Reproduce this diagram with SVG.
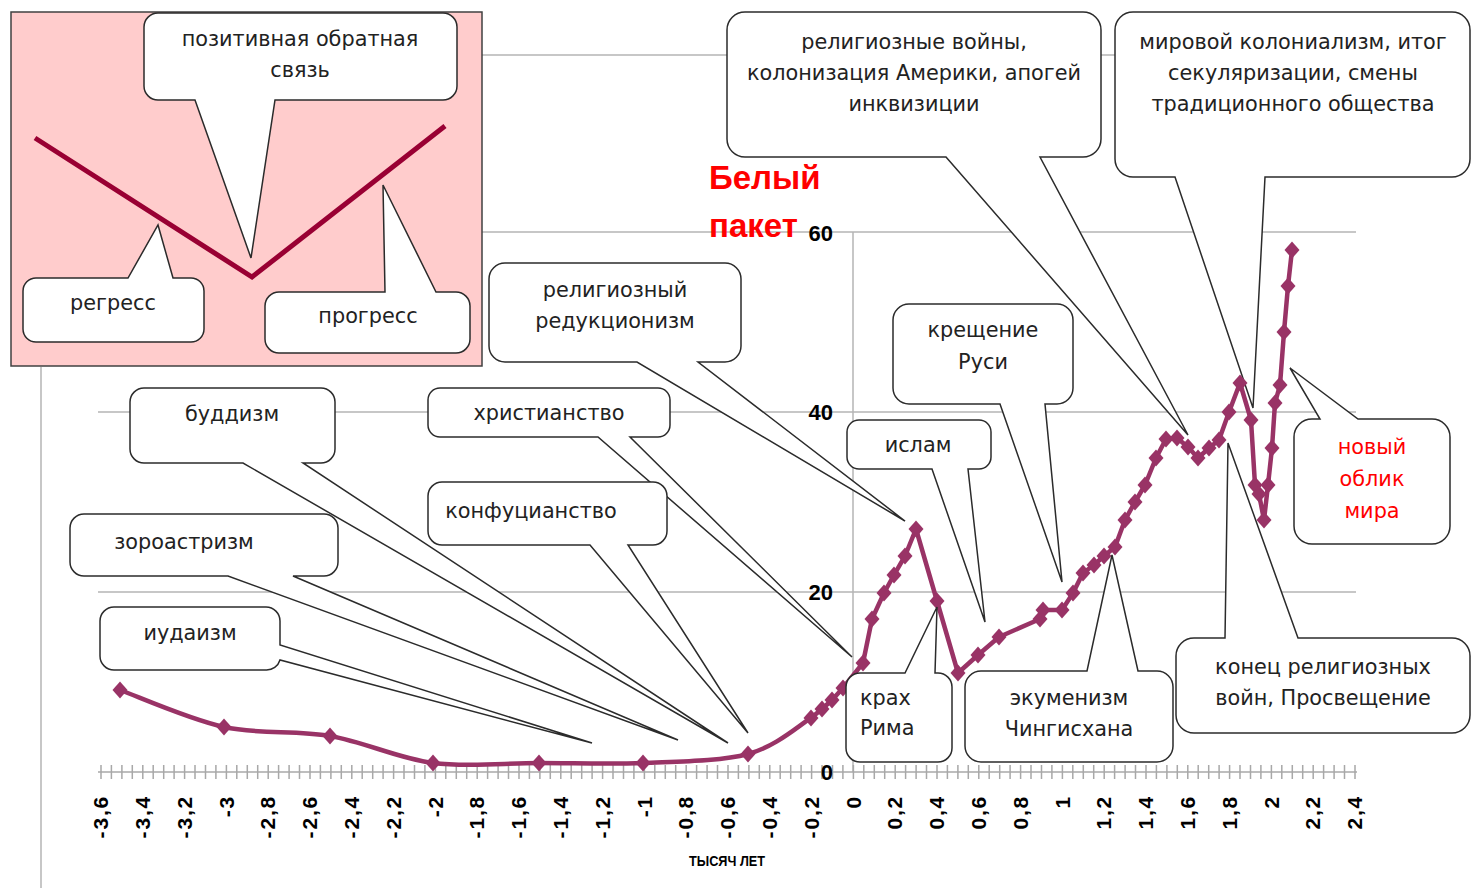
<svg xmlns="http://www.w3.org/2000/svg" width="1471" height="888" viewBox="0 0 1471 888">
<style>
.grid{stroke:#B4B4B4;stroke-width:1.5;fill:none}
.tick{stroke:#A8A8A8;stroke-width:1.5}
.call{fill:#FFFFFF;stroke:#2B2B2B;stroke-width:1.5;stroke-linejoin:miter}
.t{font-family:"DejaVu Sans",sans-serif;font-size:20.8px;fill:#222;text-anchor:middle}
.tl{font-family:"DejaVu Sans",sans-serif;font-size:20.8px;fill:#222}
.red{fill:#FF0000}
.xl{font-family:"Liberation Sans",Arial,sans-serif;font-size:21px;font-weight:bold;fill:#000;text-anchor:end;letter-spacing:1.8px}
.yl{font-family:"Liberation Sans",Arial,sans-serif;font-size:22px;font-weight:bold;fill:#000;text-anchor:end}
.curve{fill:none;stroke:#993366;stroke-width:4.5;stroke-linejoin:round;marker-start:url(#dia);marker-mid:url(#dia);marker-end:url(#dia)}
</style>
<defs>
<marker id="dia" markerUnits="userSpaceOnUse" markerWidth="18" markerHeight="20" refX="9" refY="10" orient="0" viewBox="0 0 18 20">
<path d="M9,1.5 L16.5,10 L9,18.5 L1.5,10 Z" fill="#993366"/>
</marker>
</defs>
<rect width="1471" height="888" fill="#FFFFFF"/>

<g id="chart">
<line class="grid" x1="98" y1="55" x2="1356" y2="55"/>
<line class="grid" x1="98" y1="232" x2="1356" y2="232"/>
<line class="grid" x1="98" y1="412" x2="1356" y2="412"/>
<line class="grid" x1="98" y1="592" x2="1356" y2="592"/>
<line class="grid" x1="853" y1="232" x2="853" y2="772"/>
<line class="grid" x1="41" y1="367" x2="41" y2="888" stroke-width="1"/>
<line class="tick" x1="98" y1="772" x2="1357" y2="772"/>
<path class="tick" d="M101,765V779M111.4,765V779M121.9,765V779M132.3,765V779M142.8,765V779M153.2,765V779M163.7,765V779M174.1,765V779M184.6,765V779M195,765V779M205.5,765V779M215.9,765V779M226.4,765V779M236.8,765V779M247.3,765V779M257.7,765V779M268.2,765V779M278.6,765V779M289.1,765V779M299.5,765V779M310,765V779M320.4,765V779M330.9,765V779M341.3,765V779M351.8,765V779M362.2,765V779M372.7,765V779M383.1,765V779M393.6,765V779M404,765V779M414.5,765V779M424.9,765V779M435.4,765V779M445.8,765V779M456.3,765V779M466.7,765V779M477.2,765V779M487.6,765V779M498.1,765V779M508.5,765V779M519,765V779M529.4,765V779M539.9,765V779M550.3,765V779M560.8,765V779M571.2,765V779M581.7,765V779M592.1,765V779M602.6,765V779M613,765V779M623.5,765V779M633.9,765V779M644.4,765V779M654.8,765V779M665.3,765V779M675.7,765V779M686.2,765V779M696.6,765V779M707.1,765V779M717.5,765V779M728,765V779M738.4,765V779M748.9,765V779M759.3,765V779M769.8,765V779M780.2,765V779M790.7,765V779M801.1,765V779M811.6,765V779M822,765V779M832.5,765V779M842.9,765V779M853.4,765V779M863.8,765V779M874.3,765V779M884.7,765V779M895.2,765V779M905.6,765V779M916.1,765V779M926.5,765V779M937,765V779M947.4,765V779M957.9,765V779M968.3,765V779M978.8,765V779M989.2,765V779M999.7,765V779M1010.1,765V779M1020.6,765V779M1031,765V779M1041.5,765V779M1051.9,765V779M1062.4,765V779M1072.8,765V779M1083.3,765V779M1093.7,765V779M1104.2,765V779M1114.6,765V779M1125.1,765V779M1135.5,765V779M1146,765V779M1156.4,765V779M1166.9,765V779M1177.3,765V779M1187.8,765V779M1198.2,765V779M1208.7,765V779M1219.1,765V779M1229.6,765V779M1240,765V779M1250.5,765V779M1260.9,765V779M1271.4,765V779M1281.8,765V779M1292.3,765V779M1302.7,765V779M1313.2,765V779M1323.6,765V779M1334.1,765V779M1344.5,765V779M1355,765V779"/>
<g class="xl">
<text transform="translate(108,795) rotate(-90)">-3,6</text>
<text transform="translate(150,795) rotate(-90)">-3,4</text>
<text transform="translate(192,795) rotate(-90)">-3,2</text>
<text transform="translate(234,795) rotate(-90)">-3</text>
<text transform="translate(275,795) rotate(-90)">-2,8</text>
<text transform="translate(317,795) rotate(-90)">-2,6</text>
<text transform="translate(359,795) rotate(-90)">-2,4</text>
<text transform="translate(401,795) rotate(-90)">-2,2</text>
<text transform="translate(443,795) rotate(-90)">-2</text>
<text transform="translate(484,795) rotate(-90)">-1,8</text>
<text transform="translate(526,795) rotate(-90)">-1,6</text>
<text transform="translate(568,795) rotate(-90)">-1,4</text>
<text transform="translate(610,795) rotate(-90)">-1,2</text>
<text transform="translate(652,795) rotate(-90)">-1</text>
<text transform="translate(693,795) rotate(-90)">-0,8</text>
<text transform="translate(735,795) rotate(-90)">-0,6</text>
<text transform="translate(777,795) rotate(-90)">-0,4</text>
<text transform="translate(819,795) rotate(-90)">-0,2</text>
<text transform="translate(861,795) rotate(-90)">0</text>
<text transform="translate(902,795) rotate(-90)">0,2</text>
<text transform="translate(944,795) rotate(-90)">0,4</text>
<text transform="translate(986,795) rotate(-90)">0,6</text>
<text transform="translate(1028,795) rotate(-90)">0,8</text>
<text transform="translate(1070,795) rotate(-90)">1</text>
<text transform="translate(1111,795) rotate(-90)">1,2</text>
<text transform="translate(1153,795) rotate(-90)">1,4</text>
<text transform="translate(1195,795) rotate(-90)">1,6</text>
<text transform="translate(1237,795) rotate(-90)">1,8</text>
<text transform="translate(1279,795) rotate(-90)">2</text>
<text transform="translate(1320,795) rotate(-90)">2,2</text>
<text transform="translate(1362,795) rotate(-90)">2,4</text>
</g>
<text x="727" y="866" font-family="'Liberation Sans',Arial,sans-serif" font-size="14" font-weight="bold" text-anchor="middle" fill="#000" textLength="76" lengthAdjust="spacingAndGlyphs">ТЫСЯЧ ЛЕТ</text>
<text class="yl" x="833" y="241">60</text>
<text class="yl" x="833" y="420">40</text>
<text class="yl" x="833" y="600">20</text>
<text class="yl" x="833" y="780">0</text>
</g>

<g id="callout-religious-wars">
<path class="call" d="M745,12H1083A18,18 0 0 1 1101,30V139A18,18 0 0 1 1083,157H1040L1188,435L946,157H745A18,18 0 0 1 727,139V30A18,18 0 0 1 745,12Z"/>
<text class="t" x="914" y="49">религиозные войны,</text>
<text class="t" x="914" y="80">колонизация Америки, апогей</text>
<text class="t" x="914" y="111">инквизиции</text>
</g>
<g id="callout-colonialism">
<path class="call" d="M1133,12H1452A18,18 0 0 1 1470,30V159A18,18 0 0 1 1452,177H1265L1253,408L1175,177H1133A18,18 0 0 1 1115,159V30A18,18 0 0 1 1133,12Z"/>
<text class="t" x="1293" y="49">мировой колониализм, итог</text>
<text class="t" x="1293" y="80">секуляризации, смены</text>
<text class="t" x="1293" y="111">традиционного общества</text>
</g>
<g id="callout-reductionism">
<path class="call" d="M505,263H725A16,16 0 0 1 741,279V346A16,16 0 0 1 725,362H698L905,521L637,362H505A16,16 0 0 1 489,346V279A16,16 0 0 1 505,263Z"/>
<text class="t" x="615" y="297">религиозный</text>
<text class="t" x="615" y="328">редукционизм</text>
</g>
<g id="callout-kreshchenie">
<path class="call" d="M909,304H1057A16,16 0 0 1 1073,320V388A16,16 0 0 1 1057,404H1045L1062,582L1000,404H909A16,16 0 0 1 893,388V320A16,16 0 0 1 909,304Z"/>
<text class="t" x="983" y="337">крещение</text>
<text class="t" x="983" y="369">Руси</text>
</g>
<g id="callout-islam">
<path class="call" d="M859,420H979A12,12 0 0 1 991,432V457A12,12 0 0 1 979,469H968L985,622L932,469H859A12,12 0 0 1 847,457V432A12,12 0 0 1 859,420Z"/>
<text class="t" x="918" y="452">ислам</text>
</g>
<g id="callout-new-world">
<path class="call" d="M1312,419H1320L1290,368L1358,419H1432A18,18 0 0 1 1450,437V526A18,18 0 0 1 1432,544H1312A18,18 0 0 1 1294,526V437A18,18 0 0 1 1312,419Z"/>
<text class="t red" x="1372" y="454">новый</text>
<text class="t red" x="1372" y="486">облик</text>
<text class="t red" x="1372" y="518">мира</text>
</g>
<g id="callout-enlightenment">
<path class="call" d="M1194,638H1225L1228,443L1298,638H1452A18,18 0 0 1 1470,656V715A18,18 0 0 1 1452,733H1194A18,18 0 0 1 1176,715V656A18,18 0 0 1 1194,638Z"/>
<text class="t" x="1323" y="674">конец религиозных</text>
<text class="t" x="1323" y="705">войн, Просвещение</text>
</g>
<g id="callout-buddhism">
<path class="call" d="M144,388H321A14,14 0 0 1 335,402V449A14,14 0 0 1 321,463H303L728,743L243,463H144A14,14 0 0 1 130,449V402A14,14 0 0 1 144,388Z"/>
<text class="t" x="232" y="421">буддизм</text>
</g>
<g id="callout-christianity">
<path class="call" d="M440,388H658A12,12 0 0 1 670,400V425A12,12 0 0 1 658,437H630L852,657L598,437H440A12,12 0 0 1 428,425V400A12,12 0 0 1 440,388Z"/>
<text class="t" x="549" y="420">христианство</text>
</g>
<g id="callout-confucianism">
<path class="call" d="M442,482H653A14,14 0 0 1 667,496V531A14,14 0 0 1 653,545H628L748,733L590,545H442A14,14 0 0 1 428,531V496A14,14 0 0 1 442,482Z"/>
<text class="t" x="531" y="518">конфуцианство</text>
</g>
<g id="callout-zoroastrianism">
<path class="call" d="M84,514H324A14,14 0 0 1 338,528V562A14,14 0 0 1 324,576H293L678,740L228,576H84A14,14 0 0 1 70,562V528A14,14 0 0 1 84,514Z"/>
<text class="t" x="184" y="549">зороастризм</text>
</g>
<g id="callout-judaism">
<path class="call" d="M114,607H266A14,14 0 0 1 280,621V645L592,743L280,660A14,14 0 0 1 266,670H114A14,14 0 0 1 100,656V621A14,14 0 0 1 114,607Z"/>
<text class="t" x="190" y="640">иудаизм</text>
</g>

<g id="series">
<path class="curve" d="M120,690C137.3,696.2 189,719.3 224,727C259,734.7 295.2,730 330,736C364.8,742 398.2,758.5 433,763C467.8,767.5 504.7,763 539,763C573.3,763 608.2,764.5 643,763C677.8,761.5 720,761.5 748,754C776,746.5 798.7,725.5 811,718L822,709L832,700L843,688L863,663L872,619L884,593L894,575L905,556L916,529L937,601L958,673L978,655L999,637L1040,619L1043,610L1062,610L1073,593L1083,573L1094,565L1104,556L1115,547L1125,520L1135,502L1145,485L1156,458L1166,439L1177,438L1188,447L1198,458L1209,448L1219,440L1229,412L1240,383L1251,420L1255,485L1259,494L1264,520L1268,485L1272,448L1275,403L1280,385L1284,332L1288,286L1292,250"/>
</g>

<g id="callout-krah">
<path class="call" d="M860,673H905L937,607L935,673H938A14,14 0 0 1 952,687V748A14,14 0 0 1 938,762H860A14,14 0 0 1 846,748V687A14,14 0 0 1 860,673Z"/>
<text class="tl" x="860" y="705">крах</text>
<text class="tl" x="860" y="735">Рима</text>
</g>
<g id="callout-ecumenism">
<path class="call" d="M981,671H1087L1112,555L1138,671H1157A16,16 0 0 1 1173,687V746A16,16 0 0 1 1157,762H981A16,16 0 0 1 965,746V687A16,16 0 0 1 981,671Z"/>
<text class="t" x="1069" y="705">экуменизм</text>
<text class="t" x="1069" y="736">Чингисхана</text>
</g>

<text x="709" y="189" font-family="'Liberation Sans',Arial,sans-serif" font-size="33" font-weight="bold" fill="#FF0000">Белый</text>
<text x="709" y="237" font-family="'Liberation Sans',Arial,sans-serif" font-size="33" font-weight="bold" fill="#FF0000">пакет</text>

<g id="inset">
<rect x="11" y="12" width="471" height="354" fill="#FFCCCC" stroke="#404040" stroke-width="1.5"/>
<polyline points="35,138 252,277 445,126" fill="none" stroke="#990033" stroke-width="5"/>
<g id="callout-feedback">
<path class="call" d="M158,13H443A14,14 0 0 1 457,27V86A14,14 0 0 1 443,100H275L251,258L195,100H158A14,14 0 0 1 144,86V27A14,14 0 0 1 158,13Z"/>
<text class="t" x="300" y="46">позитивная обратная</text>
<text class="t" x="300" y="77">связь</text>
</g>
<g id="callout-regress">
<path class="call" d="M36,278H128L158,225L173,278H191A13,13 0 0 1 204,291V329A13,13 0 0 1 191,342H36A13,13 0 0 1 23,329V291A13,13 0 0 1 36,278Z"/>
<text class="t" x="113" y="310">регресс</text>
</g>
<g id="callout-progress">
<path class="call" d="M279,292H385L383,185L436,292H456A14,14 0 0 1 470,306V339A14,14 0 0 1 456,353H279A14,14 0 0 1 265,339V306A14,14 0 0 1 279,292Z"/>
<text class="t" x="368" y="323">прогресс</text>
</g>
</g>
</svg>
